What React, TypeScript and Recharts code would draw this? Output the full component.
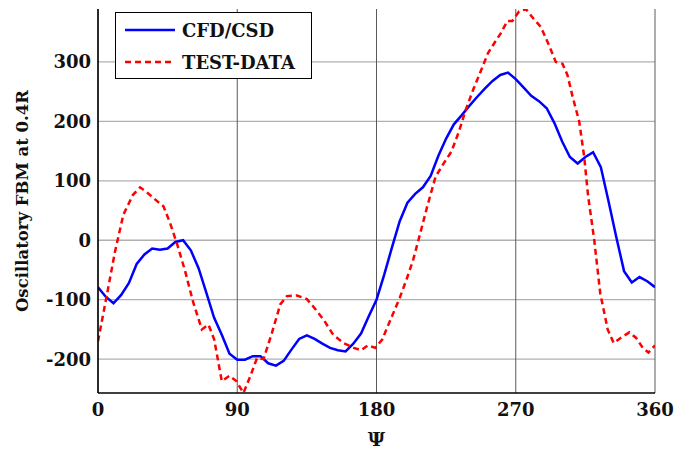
import React from "react";
import { LineChart, Line, XAxis, YAxis, CartesianGrid, Legend, Label } from "recharts";

const cfdAngles = [0, 5, 10, 15, 20, 25, 30, 35, 40, 45, 50, 55, 60, 65, 70, 75, 80, 85, 90, 95, 100, 105, 110, 115, 120, 125, 130, 135, 140, 145, 150, 155, 160, 165, 170, 175, 180, 185, 190, 195, 200, 205, 210, 215, 220, 225, 230, 235, 240, 245, 250, 255, 260, 265, 270, 275, 280, 285, 290, 295, 300, 305, 310, 315, 320, 325, 330, 335, 340, 345, 350, 355, 360];
const cfdValues = [-79, -95, -106, -92, -72, -40, -24, -14, -16, -14, -3, 0, -17, -47, -88, -130, -159, -191, -201, -201, -195, -195, -207, -211, -203, -184, -166, -160, -166, -174, -181, -185, -187, -174, -157, -128, -100, -58, -12, 32, 63, 78, 89, 108, 142, 171, 195, 210, 226, 241, 255, 268, 278, 282, 271, 257, 243, 234, 222, 197, 166, 140, 129, 140, 148, 123, 65, 5, -52, -71, -62, -69, -79];

const testAngles = [0, 5.6, 11, 16.4, 22.5, 27.2, 31, 35.8, 42.3, 46.6, 51.3, 56.3, 61.7, 67.1, 71.4, 75.1, 80, 85, 89.4, 94, 98.4, 102.8, 107, 112.4, 117.8, 122.1, 128.6, 135, 139.9, 145.9, 152, 158.8, 165.3, 170, 174.4, 179.3, 183.7, 189, 195, 199.4, 203.7, 208, 212.8, 218.2, 223.6, 228.4, 233.3, 237.6, 242.6, 247.3, 252.1, 256, 260.3, 264.6, 267.8, 272.2, 276.5, 281.4, 286.2, 290.5, 295.9, 300.2, 303.4, 306.7, 311, 314.2, 316.8, 320.7, 324.6, 329.4, 333.3, 338, 343.4, 347.7, 352.1, 355.8, 360];
const testValues = [-170, -94, -19, 43, 76, 89, 82, 71, 57, 29, -8, -52, -106, -150, -142, -167, -237, -228, -237, -257, -229, -198, -200, -156, -108, -94, -93, -99, -114, -134, -159, -173, -181, -185, -177, -181, -167, -134, -97, -66, -33, 9, 57, 107, 130, 149, 183, 219, 254, 284, 315, 331, 348, 369, 369, 385, 389, 373, 359, 334, 300, 297, 278, 242, 200, 141, 74, 1, -89, -150, -173, -164, -155, -164, -181, -189, -177];

const xTicks = [0, 90, 180, 270, 360];
const yTicks = [-200, -100, 0, 100, 200, 300];
const seriesNames = ["CFD/CSD", "TEST-DATA"];
const xLabel = "Ψ";
const yLabel = "Oscillatory FBM at 0.4R";

const cfdData = cfdAngles.map((a, i) => ({ psi: a, v: cfdValues[i] }));
const testData = testAngles.map((a, i) => ({ psi: a, v: testValues[i] }));

const FONT = "'DejaVu Serif', serif";
const X_DOMAIN: [number, number] = [0, 360];
const Y_DOMAIN: [number, number] = [-257, 389];

const EmptyTick = () => <g />;

const YTick = (props: any) => {
  const { x, y, payload } = props;
  return (
    <text x={x} y={y} textAnchor="end" dominantBaseline="central" fontFamily={FONT} fontWeight="bold" fontSize={18} fill="#111">
      {payload.value}
    </text>
  );
};

const XTick = (props: any) => {
  const { x, y, payload } = props;
  return (
    <text x={x} y={y} dy="0.71em" textAnchor="middle" fontFamily={FONT} fontWeight="bold" fontSize={18} fill="#111">
      {payload.value}
    </text>
  );
};

const YLabelContent = (props: any) => {
  const { viewBox } = props;
  const cx = viewBox.x + 22;
  const cy = viewBox.y + viewBox.height / 2;
  return (
    <text x={cx} y={cy} transform={`rotate(-90 ${cx} ${cy})`} textAnchor="middle" dominantBaseline="central" fontFamily={FONT} fontWeight="bold" fontSize={16.5} fill="#111">
      {yLabel}
    </text>
  );
};

const LegendBox = (props: any) => {
  const payload = props.payload || [];
  return (
    <div style={{ width: 197, height: 67, boxSizing: "border-box", border: "1.5px solid #000", background: "#fff", position: "relative" }}>
      {payload.map((p: any, i: number) => (
        <div key={i} style={{ position: "absolute", left: 0, top: i === 0 ? 3 : 35, height: 28, display: "flex", alignItems: "center" }}>
          <svg width={66} height={28} style={{ display: "block" }}>
            <line x1={9} x2={59} y1={14} y2={14} stroke={p.color} strokeWidth={2.5} strokeDasharray={i === 1 ? "6 4" : undefined} />
          </svg>
          <span style={{ fontFamily: FONT, fontWeight: "bold", fontSize: 18, color: "#111", whiteSpace: "nowrap" }}>{p.value}</span>
        </div>
      ))}
    </div>
  );
};

export default function App() {
  return (
    <div style={{ position: "absolute", left: 0, top: 0, width: 678, height: 450, background: "#fff" }}>
      <LineChart width={678} height={450} margin={{ top: 9, right: 23, bottom: 0, left: 0 }}>
        <CartesianGrid stroke="#b0b0b0" strokeWidth={1.3} vertical={false} horizontalValues={yTicks} />
        <CartesianGrid stroke="#5a5a5a" strokeWidth={1} horizontal={false} verticalValues={xTicks} />
        <XAxis
          dataKey="psi"
          type="number"
          domain={X_DOMAIN}
          ticks={xTicks}
          allowDataOverflow
          height={57}
          tickLine={false}
          tickSize={0}
          tickMargin={10}
          axisLine={{ stroke: "#000", strokeWidth: 1.5 }}
          tick={<XTick />}
        >
          <Label value={xLabel} position="insideBottom" offset={4} style={{ fontFamily: FONT, fontWeight: "bold", fontSize: 19, fill: "#111" }} />
        </XAxis>
        <XAxis xAxisId="top" orientation="top" type="number" domain={X_DOMAIN} ticks={xTicks} allowDataOverflow height={0} mirror tick={<EmptyTick />} tickSize={4} tickLine={{ stroke: "#000" }} axisLine={{ stroke: "#000", strokeWidth: 1.5 }} />
        <XAxis xAxisId="bottomTicks" orientation="bottom" type="number" domain={X_DOMAIN} ticks={xTicks} allowDataOverflow height={0} mirror tick={<EmptyTick />} tickSize={4} tickLine={{ stroke: "#000" }} axisLine={false} />
        <YAxis
          type="number"
          domain={Y_DOMAIN}
          ticks={yTicks}
          allowDataOverflow
          width={98}
          tickLine={false}
          tickSize={0}
          tickMargin={7}
          axisLine={{ stroke: "#000", strokeWidth: 1.5 }}
          tick={<YTick />}
        >
          <Label content={<YLabelContent />} />
        </YAxis>
        <YAxis yAxisId="right" orientation="right" type="number" domain={Y_DOMAIN} ticks={yTicks} allowDataOverflow width={0} mirror tick={<EmptyTick />} tickSize={4} tickLine={{ stroke: "#000" }} axisLine={{ stroke: "#000", strokeWidth: 1.5 }} />
        <YAxis yAxisId="leftTicks" orientation="left" type="number" domain={Y_DOMAIN} ticks={yTicks} allowDataOverflow width={0} mirror tick={<EmptyTick />} tickSize={4} tickLine={{ stroke: "#000" }} axisLine={false} />
        <Legend
          layout="vertical"
          align="center"
          verticalAlign="middle"
          wrapperStyle={{ position: "absolute", left: 115, top: 12, width: 197, height: 67 }}
          content={<LegendBox />}
        />
        <Line data={cfdData} dataKey="v" name={seriesNames[0]} stroke="#0000ff" strokeWidth={2.5} dot={false} isAnimationActive={false} />
        <Line data={testData} dataKey="v" name={seriesNames[1]} stroke="#ff0000" strokeWidth={2.5} strokeDasharray="6 4" dot={false} isAnimationActive={false} />
      </LineChart>
    </div>
  );
}
